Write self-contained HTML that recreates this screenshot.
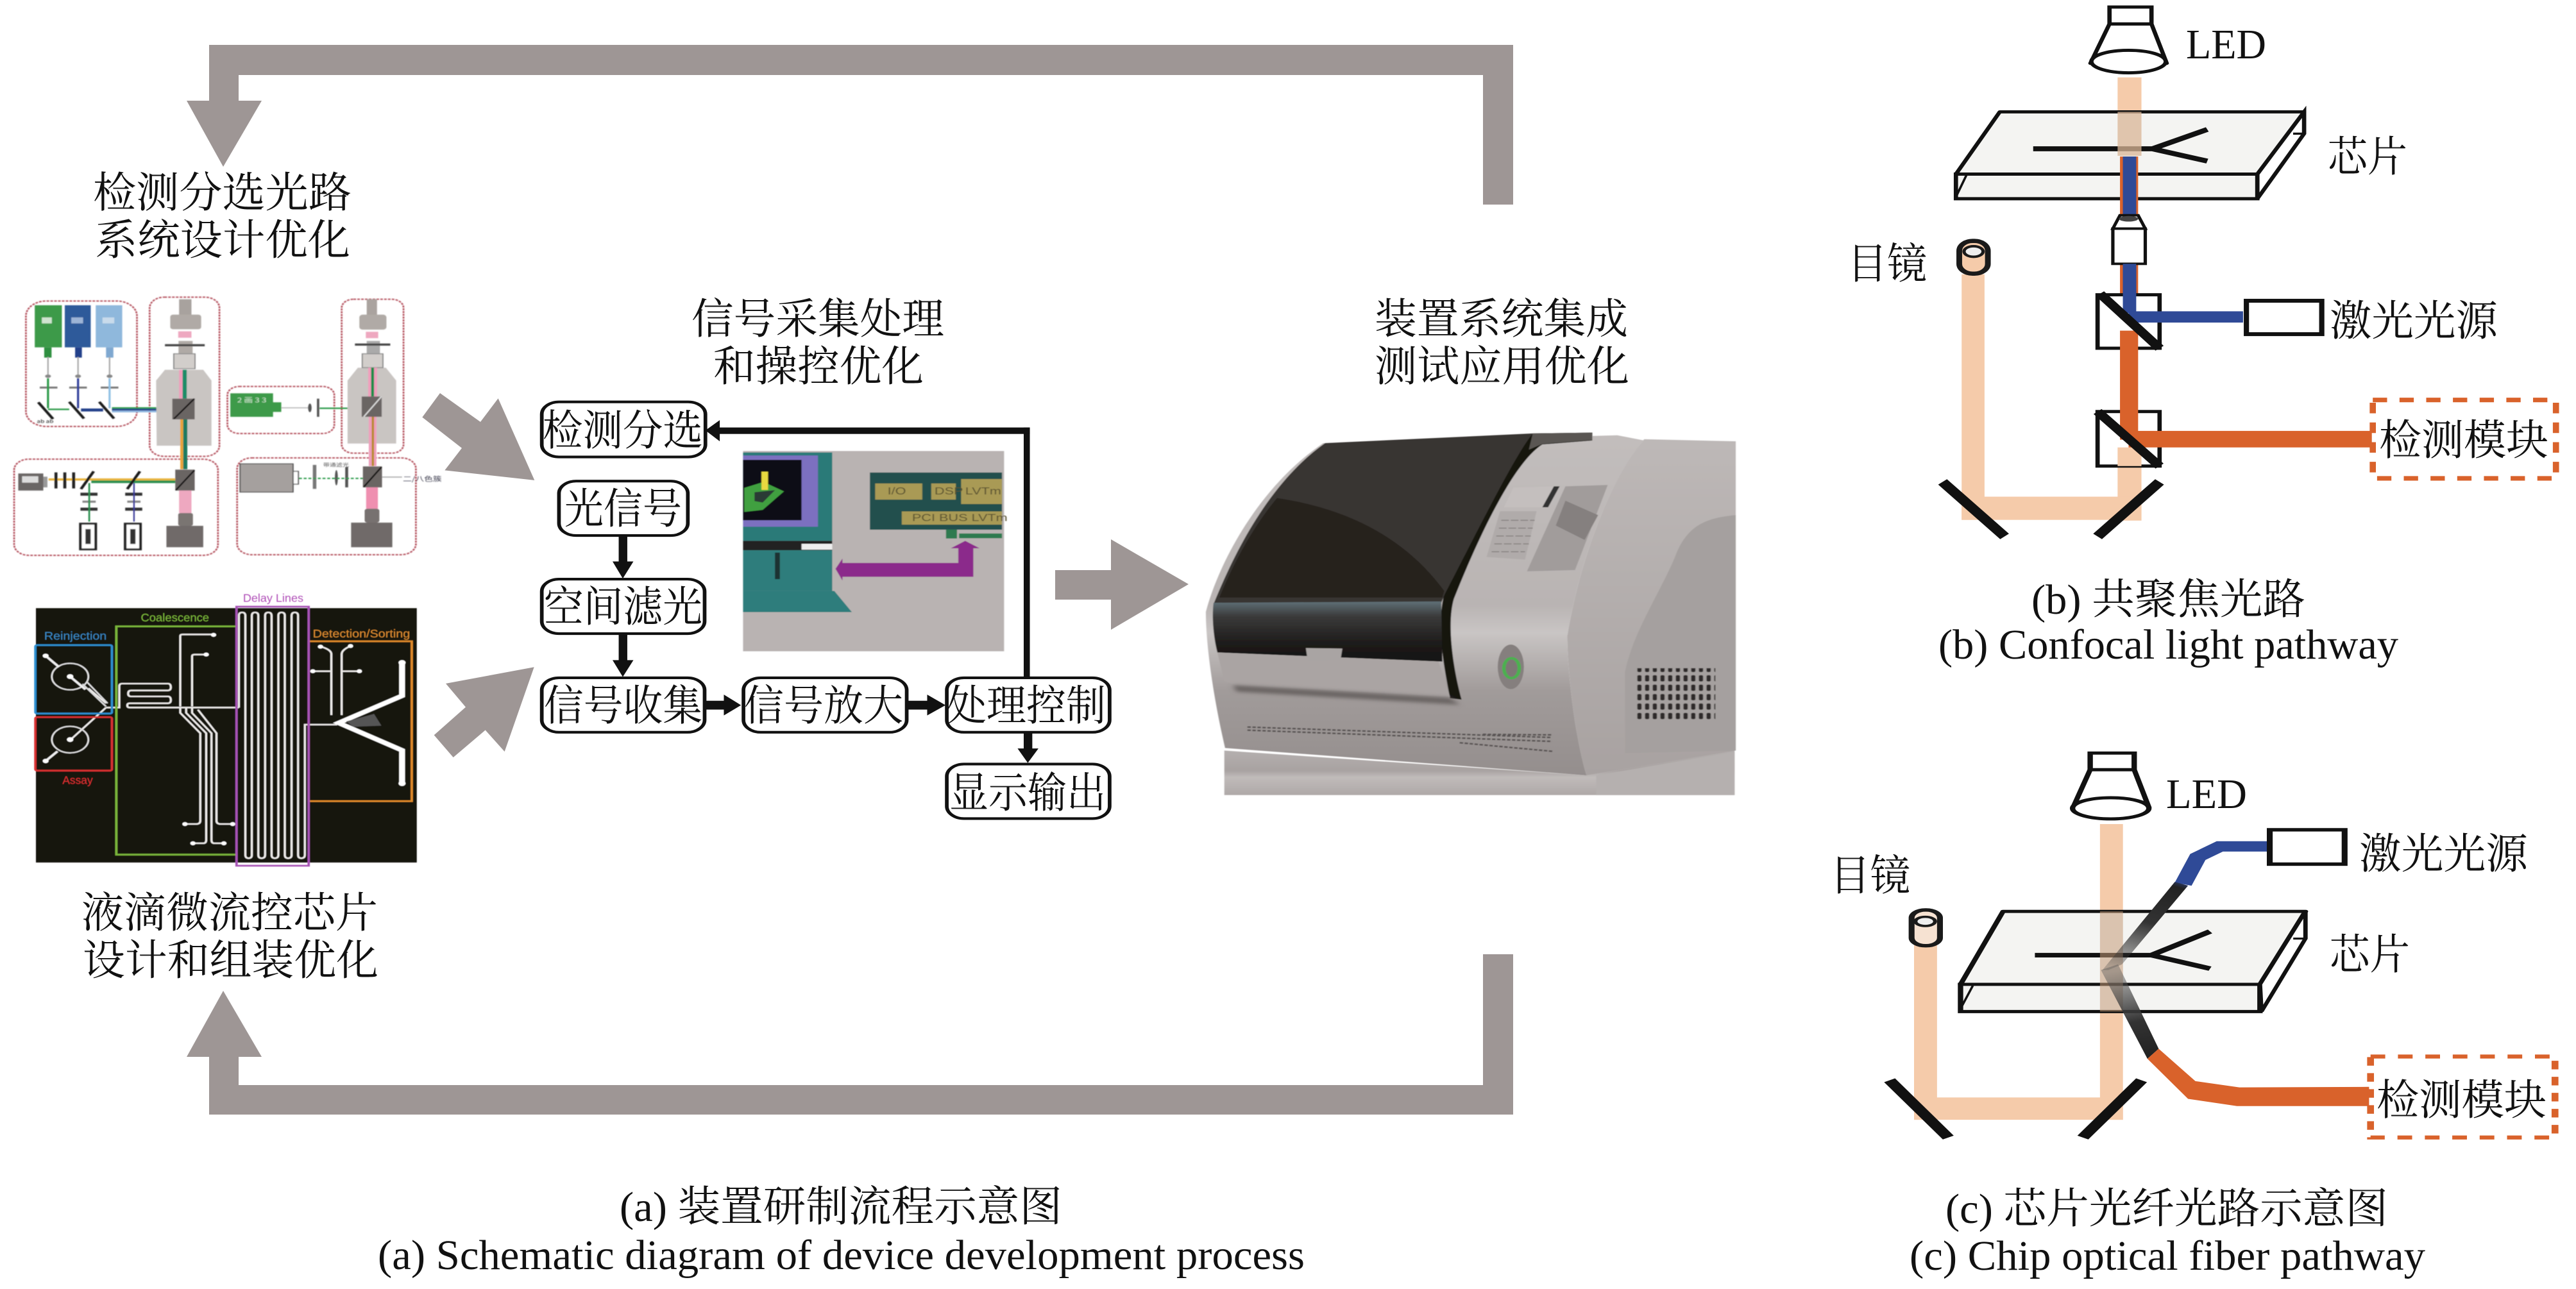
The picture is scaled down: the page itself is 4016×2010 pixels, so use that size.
<!DOCTYPE html>
<html><head><meta charset="utf-8"><style>
html,body{margin:0;padding:0;background:#fff}
svg{display:block}
text{font-family:"Liberation Serif","Noto Serif CJK SC",serif;fill:#111}
.c{font-size:66px}
.s text{font-family:"Liberation Sans",sans-serif}
</style></head><body>
<svg xmlns="http://www.w3.org/2000/svg" width="4016" height="2010" viewBox="0 0 4016 2010">
<defs>
<filter id="b1" x="-5%" y="-5%" width="110%" height="110%"><feGaussianBlur stdDeviation="2"/></filter>
<filter id="b2" x="-5%" y="-5%" width="110%" height="110%"><feGaussianBlur stdDeviation="1.3"/></filter>
<filter id="b3" x="-20%" y="-20%" width="140%" height="140%"><feGaussianBlur stdDeviation="7"/></filter>
<linearGradient id="fr" x1="0" y1="0" x2="0" y2="1"><stop offset="0" stop-color="#c2bdbc"/><stop offset=".5" stop-color="#b9b4b3"/><stop offset=".58" stop-color="#c9c5c4"/><stop offset=".75" stop-color="#a19b9a"/><stop offset="1" stop-color="#948e8d"/></linearGradient>
<linearGradient id="sd" x1="0" y1="0" x2="0" y2="1"><stop offset="0" stop-color="#bdb8b7"/><stop offset="1" stop-color="#a8a2a1"/></linearGradient>
<linearGradient id="bd" x1="0" y1="0" x2="0" y2="1"><stop offset="0" stop-color="#5f7077"/><stop offset=".25" stop-color="#3a3a3a"/><stop offset=".7" stop-color="#1d1b1a"/><stop offset="1" stop-color="#151312"/></linearGradient>
<linearGradient id="st" x1="0" y1="0" x2="0" y2="1"><stop offset="0" stop-color="#b4afae"/><stop offset=".45" stop-color="#a8a2a1"/><stop offset=".6" stop-color="#c0bbba"/><stop offset="1" stop-color="#aea8a7"/></linearGradient>
<linearGradient id="f1" gradientUnits="userSpaceOnUse" x1="770" y1="470" x2="620" y2="780"><stop offset="0" stop-color="#2f4a97"/><stop offset=".1" stop-color="#222"/><stop offset=".5" stop-color="#333"/><stop offset="1" stop-color="#333" stop-opacity=".25"/></linearGradient>
<linearGradient id="f2" gradientUnits="userSpaceOnUse" x1="610" y1="800" x2="705" y2="1085"><stop offset="0" stop-color="#555" stop-opacity=".4"/><stop offset=".6" stop-color="#333"/><stop offset="1" stop-color="#222"/></linearGradient>
<pattern id="vent" patternUnits="userSpaceOnUse" width="20" height="36"><rect x="2" y="4" width="11" height="24" rx="4" fill="#2f2b2a"/></pattern>
</defs>
<rect width="4016" height="2010" fill="#fff"/>

<!-- big grey arrows -->
<g fill="#9e9695">
<polygon points="2312,319 2359,319 2359,70 326,70 326,157 291,157 348,260 408,157 372,157 372,117 2312,117"/>
<polygon points="2312,1488 2359,1488 2359,1738 326,1738 326,1648 291,1648 348,1545 408,1648 372,1648 372,1692 2312,1692"/>
<polygon points="1645,889 1732,889 1732,841 1853,911 1732,982 1732,935 1645,935"/>
<g transform="translate(600,560) scale(.3333,.408)">
<polygon points="175,222 258,130 447,240 530,150 700,463 280,425 360,340"/>
<polygon points="230,1437 378,1330 285,1240 698,1177 560,1500 470,1418 320,1522"/>
</g>
</g>

<!-- optical layout (top-left) -->
<g transform="translate(0,420) scale(.4592,.3333)" filter="url(#b1)">
<g fill="none" stroke="#b5525f" stroke-width="6" stroke-dasharray="9 4">
<rect x="88" y="148" width="377" height="587" rx="70"/>
<rect x="508" y="130" width="237" height="745" rx="50"/>
<rect x="772" y="548" width="363" height="220" rx="40"/>
<rect x="1160" y="140" width="210" height="720" rx="40"/>
<rect x="48" y="888" width="692" height="450" rx="50"/>
<rect x="805" y="882" width="607" height="453" rx="50"/>
</g>
<rect x="118" y="168" width="92" height="197" fill="#3d9a4a"/><rect x="150" y="365" width="25" height="48" fill="#2f8f40"/>
<rect x="220" y="168" width="88" height="197" fill="#2d5a9a"/><rect x="255" y="365" width="23" height="48" fill="#24408a"/>
<rect x="325" y="168" width="90" height="197" fill="#8fb8dc"/><rect x="360" y="365" width="25" height="48" fill="#7fa8d0"/>
<g fill="#cfe4cf"><rect x="142" y="225" width="34" height="28"/></g><rect x="242" y="225" width="40" height="28" fill="#9db4d6"/><rect x="348" y="225" width="40" height="28" fill="#c9dbeb"/>
<g stroke="#aaa" stroke-width="5"><line x1="163" y1="410" x2="163" y2="500"/><line x1="265" y1="410" x2="265" y2="500"/><line x1="372" y1="410" x2="372" y2="500"/></g>
<g stroke="#777" stroke-width="9"><line x1="135" y1="553" x2="195" y2="553"/><line x1="235" y1="553" x2="295" y2="553"/><line x1="342" y1="553" x2="402" y2="553"/></g>
<ellipse cx="163" cy="500" rx="10" ry="8" fill="#888"/><ellipse cx="265" cy="500" rx="10" ry="8" fill="#888"/><ellipse cx="372" cy="500" rx="10" ry="8" fill="#888"/>
<line x1="163" y1="510" x2="163" y2="650" stroke="#2c9a48" stroke-width="7"/>
<line x1="265" y1="510" x2="265" y2="650" stroke="#2e3e9a" stroke-width="7"/>
<line x1="372" y1="510" x2="372" y2="650" stroke="#8fc0e4" stroke-width="7"/>
<line x1="163" y1="655" x2="235" y2="655" stroke="#2c9a48" stroke-width="7"/>
<line x1="275" y1="658" x2="350" y2="658" stroke="#24408a" stroke-width="14"/>
<rect x="380" y="645" width="200" height="7" fill="#2c9a48"/><rect x="380" y="652" width="200" height="9" fill="#24408a"/><rect x="380" y="661" width="200" height="8" fill="#8fb8e0"/>
<g stroke="#1a1a1a" stroke-width="10"><line x1="130" y1="622" x2="180" y2="700"/><line x1="235" y1="620" x2="285" y2="698"/><line x1="337" y1="620" x2="387" y2="698"/></g>
<text x="125" y="718" font-size="22" style="font-family:'Noto Sans CJK SC',sans-serif" fill="#2c7a40">ab ab</text>

<polygon points="530,520 560,470 690,470 718,520 718,825 532,825" fill="#c9c5c2"/>
<rect x="608" y="140" width="42" height="75" fill="#a8a29e"/><rect x="578" y="212" width="105" height="68" rx="10" fill="#b0aaa6"/>
<rect x="605" y="290" width="45" height="30" fill="#eea8c0"/>
<rect x="606" y="335" width="48" height="60" fill="#b0aaa6"/><rect x="560" y="350" width="135" height="10" fill="#444"/>
<rect x="590" y="395" width="72" height="70" fill="#d2cecb" stroke="#888" stroke-width="4"/>
<rect x="608" y="470" width="12" height="135" fill="#ef9fbc"/><rect x="620" y="470" width="14" height="135" fill="#1f8c68"/>
<rect x="612" y="700" width="10" height="235" fill="#e8a33a"/><rect x="622" y="700" width="14" height="235" fill="#1f7a60"/>
<rect x="585" y="605" width="76" height="97" fill="#6b6563"/><line x1="590" y1="700" x2="660" y2="605" stroke="#111" stroke-width="6"/>
<rect x="595" y="937" width="66" height="98" fill="#6b6563"/><line x1="597" y1="1033" x2="660" y2="940" stroke="#111" stroke-width="6"/>
<rect x="608" y="1035" width="42" height="105" fill="#eea8c0"/>
<rect x="605" y="1140" width="50" height="60" rx="8" fill="#7a7472"/><rect x="565" y="1200" width="125" height="100" fill="#6f6a69"/>
<rect x="165" y="978" width="430" height="10" fill="#e8b23a"/><rect x="310" y="988" width="285" height="12" fill="#2c8f50"/>
<rect x="62" y="955" width="85" height="80" fill="#6a6665"/><rect x="75" y="968" width="55" height="30" fill="#ddd"/><rect x="147" y="970" width="14" height="50" fill="#999"/>
<g fill="#222"><rect x="185" y="950" width="10" height="75"/><rect x="215" y="950" width="10" height="75"/><rect x="245" y="950" width="10" height="75"/></g>
<g stroke="#1a1a1a" stroke-width="10"><line x1="275" y1="1028" x2="318" y2="945"/><line x1="432" y1="1028" x2="475" y2="945"/></g>
<g fill="#333"><rect x="273" y="1045" width="58" height="14"/><rect x="273" y="1115" width="58" height="14"/><rect x="425" y="1045" width="58" height="14"/><rect x="425" y="1115" width="58" height="14"/></g>
<g fill="#888"><rect x="280" y="1082" width="45" height="10"/><rect x="432" y="1082" width="45" height="10"/></g>
<line x1="303" y1="1000" x2="303" y2="1180" stroke="#2c8f50" stroke-width="6"/><line x1="455" y1="1000" x2="455" y2="1180" stroke="#3a3a9a" stroke-width="5"/>
<g fill="#fff" stroke="#222" stroke-width="9"><rect x="273" y="1190" width="52" height="120"/><rect x="425" y="1190" width="52" height="120"/></g>
<g fill="#333"><rect x="290" y="1215" width="18" height="70"/><rect x="442" y="1215" width="18" height="70"/></g>

<rect x="782" y="580" width="145" height="110" fill="#3d9a4a"/><rect x="925" y="622" width="30" height="45" fill="#3d9a4a"/>
<text x="805" y="622" font-size="30" fill="#cfe8cf" style="font-family:'Noto Sans CJK SC',sans-serif;fill:#cfe8cf">2 画 3 3</text>
<line x1="955" y1="648" x2="1050" y2="648" stroke="#aaa" stroke-width="4"/>
<rect x="1076" y="605" width="8" height="85" fill="#555"/><ellipse cx="1052" cy="648" rx="6" ry="20" fill="#555"/>
<line x1="1085" y1="650" x2="1225" y2="650" stroke="#2c9a48" stroke-width="7"/>
<polygon points="1180,520 1215,460 1310,460 1345,520 1345,815 1180,815" fill="#c9c5c2"/>
<rect x="1245" y="140" width="35" height="75" fill="#aaa39f"/><rect x="1220" y="212" width="92" height="70" rx="12" fill="#b0aaa6"/>
<rect x="1242" y="292" width="42" height="30" fill="#eea8c0"/>
<rect x="1245" y="335" width="45" height="60" fill="#aaa"/><rect x="1205" y="347" width="120" height="10" fill="#444"/>
<rect x="1230" y="395" width="70" height="65" fill="#d2cecb" stroke="#888" stroke-width="4"/>
<rect x="1250" y="460" width="10" height="135" fill="#ef9fbc"/><rect x="1260" y="460" width="10" height="135" fill="#1f8c48"/><rect x="1270" y="460" width="10" height="135" fill="#ef9fbc"/>
<rect x="1228" y="595" width="68" height="95" fill="#6b6563"/><line x1="1235" y1="690" x2="1295" y2="595" stroke="#ddd" stroke-width="5"/>
<rect x="1252" y="690" width="12" height="230" fill="#ef9fbc"/><rect x="1262" y="690" width="8" height="230" fill="#b98a2a"/><rect x="1270" y="690" width="8" height="230" fill="#ef9fbc"/>
<rect x="1232" y="922" width="65" height="98" fill="#6b6563"/><line x1="1235" y1="1018" x2="1295" y2="925" stroke="#111" stroke-width="6"/>
<rect x="1243" y="1020" width="40" height="100" fill="#ef8fb0"/>
<rect x="1238" y="1120" width="50" height="65" rx="10" fill="#77716f"/><rect x="1192" y="1185" width="140" height="115" fill="#6f6a69"/>
<line x1="1297" y1="972" x2="1365" y2="972" stroke="#999" stroke-width="4"/>
<text x="1368" y="992" font-size="30" style="font-family:'Noto Sans CJK SC',sans-serif;fill:#445">二/八色簇</text>
<rect x="815" y="910" width="180" height="132" fill="#a5a09e" stroke="#555" stroke-width="4"/><rect x="995" y="945" width="18" height="60" fill="#fff" stroke="#555" stroke-width="4"/>
<rect x="1062" y="915" width="12" height="112" fill="#777"/><rect x="1172" y="925" width="10" height="95" fill="#555"/><ellipse cx="1142" cy="975" rx="5" ry="36" fill="#555"/>
<line x1="1015" y1="978" x2="1232" y2="978" stroke="#2c9a48" stroke-width="6" stroke-dasharray="10 6"/>
<text x="1097" y="922" font-size="22" fill="#555" style="font-family:'Noto Sans CJK SC',sans-serif;fill:#555">带通滤光</text>
</g>

<!-- microfluidic chip -->
<g transform="translate(0,900) scale(.4592,.3333)" filter="url(#b2)">
<rect x="122" y="145" width="1293" height="1190" fill="#141210"/>
<g fill="none" stroke="#eceae8" stroke-width="7">
<path d="M811,610V180Q811,165 822,165Q833,165 833,180V1300Q833,1315 844,1315Q855,1315 855,1300V180Q855,165 866,165Q877,165 877,180V1300Q877,1315 888,1315Q900,1315 900,1300V180Q900,165 911,165Q922,165 922,180V1300Q922,1315 933,1315Q945,1315 945,1300V180Q945,165 956,165Q967,165 967,180V1300Q967,1315 978,1315Q990,1315 990,1300V180Q990,165 1001,165Q1012,165 1012,180V1300Q1012,1315 1023,1315Q1035,1315 1035,1300V690H1145"/>
<path d="M811,610H440Q432,610 432,600Q432,590 440,590H570Q580,590 580,575Q580,558 570,558H445Q435,558 435,545Q435,530 445,530H570Q580,530 580,515Q580,498 570,498H415Q405,498 405,510V610H360"/>
<path d="M612,605V275Q612,268 620,268H725"/><path d="M652,605V370Q652,362 660,362H700"/>
<path d="M612,610V635L680,730V1140Q680,1155 665,1155H628"/><path d="M632,610V635L700,730V1230"/><path d="M652,610V635L718,730V1230"/><path d="M672,620L735,730V1140Q735,1155 750,1155H790"/>
<path d="M700,1230Q700,1245 690,1245H655"/><path d="M718,1230Q718,1245 728,1245H760"/>
<path d="M360,610L240,760M300,520L360,590"/>
<path d="M1125,645V360Q1125,340 1090,325"/><path d="M1160,645V360Q1160,340 1190,322"/><path d="M1125,440H1060"/><path d="M1160,440H1220"/>
</g>
<g fill="none" stroke="#ddd" stroke-width="6"><circle cx="238" cy="465" r="62"/><circle cx="238" cy="760" r="62"/>
<line x1="280" y1="500" x2="360" y2="605"/><line x1="295" y1="490" x2="365" y2="590"/></g>
<g stroke="#eee" stroke-width="9"><line x1="155" y1="368" x2="200" y2="420"/><line x1="238" y1="465" x2="290" y2="525"/><line x1="155" y1="860" x2="195" y2="815"/></g>
<g fill="#fff"><circle cx="155" cy="368" r="10"/><circle cx="238" cy="465" r="11"/><circle cx="238" cy="760" r="11"/><circle cx="155" cy="860" r="10"/><circle cx="725" cy="270" r="9"/><circle cx="700" cy="362" r="9"/><circle cx="628" cy="1155" r="9"/><circle cx="790" cy="1155" r="9"/><circle cx="655" cy="1245" r="9"/><circle cx="760" cy="1245" r="9"/><circle cx="1088" cy="325" r="9"/><circle cx="1190" cy="322" r="9"/><circle cx="1062" cy="440" r="9"/><circle cx="1220" cy="440" r="9"/></g>
<polyline points="1365,405 1365,555 1150,682 1365,810 1365,965" fill="none" stroke="#fff" stroke-width="20" stroke-linejoin="miter"/>
<circle cx="1365" cy="400" r="12" fill="#fff"/><circle cx="1365" cy="965" r="12" fill="#fff"/>
<polygon points="1175,675 1270,640 1295,695 1200,700" fill="#555"/>
<g fill="none" stroke-width="8">
<rect x="120" y="318" width="260" height="320" rx="6" stroke="#2f8fd0"/>
<rect x="120" y="655" width="260" height="250" rx="6" stroke="#d83030"/>
<path d="M800,230H395V1298H800" stroke="#7ab53a"/>
<rect x="1048" y="300" width="350" height="748" stroke="#e08a2a"/>
<rect x="803" y="138" width="245" height="1212" stroke="#a652b4"/>
</g>
<g class="s" font-size="52">
<text x="150" y="292" textLength="212" lengthAdjust="spacingAndGlyphs" style="fill:#3a86c0">Reinjection</text>
<text x="478" y="207" textLength="232" lengthAdjust="spacingAndGlyphs" style="fill:#7ab53a">Coalescence</text>
<text x="825" y="115" textLength="205" lengthAdjust="spacingAndGlyphs" style="fill:#b050b8">Delay Lines</text>
<text x="1062" y="282" textLength="330" lengthAdjust="spacingAndGlyphs" style="fill:#d98a30">Detection/Sorting</text>
<text x="212" y="968" textLength="103" lengthAdjust="spacingAndGlyphs" style="fill:#d83030">Assay</text>
</g>
</g>

<!-- flowchart -->
<g transform="translate(800,600) scale(.6378,.4592)">
<g filter="url(#b2)">
<rect x="562" y="225" width="638" height="680" fill="#b9b3b2"/>
<rect x="562" y="230" width="218" height="300" fill="#2b7a78"/><rect x="562" y="240" width="183" height="242" fill="#7b70c0"/><rect x="562" y="255" width="143" height="205" fill="#100f12"/>
<polygon points="565,350 612,330 662,362 610,425 565,432" fill="#3fa040"/><polygon points="590,365 640,358 610,400 590,395" fill="#2c3a34"/><rect x="607" y="295" width="16" height="62" fill="#e8d840"/>
<rect x="872" y="298" width="323" height="194" fill="#23504e"/>
<g fill="#a99a55"><rect x="885" y="335" width="115" height="55"/><rect x="1022" y="335" width="60" height="55"/><rect x="1095" y="320" width="100" height="85"/><rect x="950" y="430" width="245" height="45"/></g>
<rect x="1058" y="492" width="27" height="30" fill="#2e7a50"/><rect x="1090" y="505" width="105" height="16" fill="#2e7a50"/>
<g font-size="34" class="s"><text x="915" y="372" style="fill:#5a5230">I/O</text><text x="1030" y="372" style="fill:#5a5230">DSP</text><text x="1105" y="372" style="fill:#5a5230">LVTm</text><text x="975" y="463" style="fill:#5a5230">PCI BUS LVTm</text></g>
<rect x="562" y="530" width="218" height="32" fill="#222"/><rect x="705" y="540" width="75" height="20" fill="#eee"/>
<rect x="562" y="562" width="218" height="138" fill="#2e7d7b"/><rect x="640" y="570" width="12" height="90" fill="#1f3331"/>
<polygon points="562,700 785,700 828,772 562,772" fill="#2e7d7b"/>
<polygon points="788,625 805,590 805,605 1088,605 1088,555 1070,555 1105,530 1140,555 1125,555 1125,652 805,652 805,665" fill="#8b2a8b"/>
</g>
<g fill="#fff" stroke="#111" stroke-width="9">
<rect x="70" y="58" width="400" height="187" rx="42"/>
<rect x="112" y="327" width="315" height="185" rx="42"/>
<rect x="70" y="660" width="398" height="185" rx="42"/>
<rect x="70" y="995" width="398" height="185" rx="42"/>
<rect x="563" y="995" width="399" height="185" rx="42"/>
<rect x="1060" y="995" width="398" height="185" rx="42"/>
<rect x="1060" y="1288" width="398" height="185" rx="42"/>
</g>
<g fill="#111">
<rect x="1248" y="145" width="15" height="850"/><rect x="500" y="145" width="763" height="22"/>
<polygon points="470,155 505,120 505,192"/>
<rect x="258" y="512" width="21" height="95"/><polygon points="243,600 294,600 268,658"/>
<rect x="258" y="845" width="21" height="95"/><polygon points="243,935 294,935 268,992"/>
<rect x="470" y="1073" width="50" height="30"/><polygon points="515,1052 557,1088 515,1123"/>
<rect x="965" y="1073" width="50" height="30"/><polygon points="1012,1052 1057,1088 1012,1123"/>
<rect x="1248" y="1180" width="21" height="60"/><polygon points="1233,1235 1284,1235 1258,1284"/>
</g>
</g>

<!-- machine -->
<g transform="translate(1820,640) scale(.5995,.408)">
<g filter="url(#b2)">
<path d="M148,1300L1090,1395L1475,1300V1470H148Z" fill="url(#st)"/>
<polygon points="1115,1395 1475,1305 1475,1470 1115,1470" fill="#b5b0af"/>
<path d="M1240,110L1478,118V1300L1090,1395C1060,1250 1040,1000 1040,860C1080,500 1180,200 1240,110Z" fill="url(#sd)"/>
<path d="M1478,400C1400,410 1350,440 1320,560C1280,700 1210,850 1190,1000L1190,1310L1478,1300Z" fill="#a5a09f"/>
<path d="M100,770C130,600 230,300 405,125L1170,95L1240,115C1180,200 1080,500 1040,860C1040,1000 1060,1250 1090,1395L150,1290C120,1100 100,900 100,770Z" fill="url(#fr)"/>
<polygon points="1035,290 1145,285 1060,610 935,615" fill="#a19c9b"/>
<polygon points="1035,345 1120,400 1085,495 1010,440" fill="#85807f"/>
<polygon points="900,295 1015,290 985,370 875,370" fill="#c4bfbe"/><polygon points="1005,290 1020,290 990,370 975,370" fill="#333"/>
<polygon points="865,385 960,385 930,570 830,560" fill="#b0abaa"/>
<g stroke="#8a8584" stroke-width="4" stroke-dasharray="20 5"><line x1="868" y1="420" x2="955" y2="420"/><line x1="862" y1="450" x2="950" y2="450"/><line x1="855" y1="480" x2="945" y2="480"/><line x1="850" y1="510" x2="940" y2="510"/><line x1="843" y1="540" x2="930" y2="540"/></g>
<path d="M950,88L1105,85V115L975,130C900,200 810,480 745,720C725,820 745,1000 765,1105L735,1100C715,950 700,820 720,700C780,470 870,200 950,88Z" fill="#14120f"/>
<path d="M950,88L1105,85V113L975,128L940,150Z" fill="#5a5652"/>
<path d="M120,740C170,560 260,280 410,125L950,88C900,180 800,480 722,700L712,735L130,740Z" fill="#393533"/>
<path d="M135,715C170,590 220,450 285,335C450,370 610,470 720,690L715,715Z" fill="#26221f"/>
<path d="M120,735L712,730L715,960L130,925C120,870 115,790 120,735Z" fill="url(#bd)"/>
<polygon points="130,925 705,960 735,1095 180,1050 148,1035" fill="#aaa4a3"/>
<polygon points="170,1050 735,1098 760,1125 180,1075" fill="#6a6564" filter="url(#b3)"/>
<polygon points="360,908 455,910 450,955 365,958" fill="#a9a4a3"/>
<ellipse cx="893" cy="980" rx="34" ry="85" fill="#857f7e"/>
<ellipse cx="895" cy="985" rx="20" ry="38" fill="#7d7775" stroke="#4cb050" stroke-width="9"/>
<rect x="1215" y="985" width="210" height="205" fill="url(#vent)"/>
<g stroke="#5a5554" stroke-width="6" fill="none" stroke-dasharray="9 4">
<line x1="208" y1="1210" x2="1000" y2="1250"/><line x1="208" y1="1222" x2="1000" y2="1265"/><line x1="820" y1="1238" x2="1000" y2="1240"/><line x1="760" y1="1270" x2="1002" y2="1303"/>
</g>
</g>
</g>

<!-- panel b -->
<g transform="translate(2850,0) scale(.7436,.5485)">
<g fill="#f5cbaa">
<rect x="607" y="220" width="50" height="230"/>
<rect x="607" y="1325" width="50" height="155"/>
<rect x="280" y="1412" width="377" height="66"/>
<rect x="280" y="780" width="48" height="698"/>
</g>
<polygon points="360,318 998,318 900,495 268,495" fill="#f4f4f2" stroke="#111" stroke-width="9" stroke-linejoin="round"/>
<polygon points="268,495 900,495 900,565 268,565" fill="#f4f4f2" stroke="#111" stroke-width="9"/>
<polygon points="998,318 998,380 900,565 900,495" fill="#fff" stroke="#111" stroke-width="9"/>
<line x1="290" y1="498" x2="268" y2="560" stroke="#111" stroke-width="5"/>
<line x1="975" y1="380" x2="998" y2="380" stroke="#111" stroke-width="6"/>
<g stroke="#111" stroke-width="14" fill="none"><path d="M430,423H680L795,368M680,423L795,458"/></g>
<rect x="607" y="318" width="50" height="125" fill="#d9b595" opacity=".75"/>
<rect x="612" y="445" width="38" height="395" fill="#d9622b"/>
<rect x="618" y="445" width="28" height="450" fill="#2f4a97"/>
<polygon points="612,612 650,612 665,650 597,650" fill="#fff" stroke="#111" stroke-width="7"/><ellipse cx="630" cy="622" rx="20" ry="8" fill="#444"/>
<rect x="597" y="650" width="68" height="100" fill="#fff" stroke="#111" stroke-width="7"/>
<rect x="565" y="838" width="130" height="152" fill="#fff" stroke="#111" stroke-width="9"/>
<rect x="565" y="1170" width="130" height="155" fill="#fff" stroke="#111" stroke-width="9"/>
<rect x="607" y="1272" width="50" height="53" fill="#f5cbaa"/>
<rect x="612" y="940" width="38" height="310" fill="#d9622b"/>
<rect x="618" y="750" width="28" height="140" fill="#2f4a97"/>
<rect x="630" y="885" width="240" height="32" fill="#2f4a97"/>
<rect x="630" y="1225" width="510" height="47" fill="#d9622b"/>
<line x1="570" y1="835" x2="695" y2="990" stroke="#111" stroke-width="22"/>
<line x1="565" y1="1170" x2="695" y2="1325" stroke="#111" stroke-width="22"/>
<rect x="877" y="855" width="158" height="95" fill="#fff" stroke="#111" stroke-width="11"/>
<rect x="1142" y="1137" width="384" height="223" fill="none" stroke="#d9622b" stroke-width="13" stroke-dasharray="30 26"/>
<g stroke="#111" stroke-width="24"><line x1="240" y1="1370" x2="370" y2="1525"/><line x1="695" y1="1370" x2="565" y2="1525"/></g>
<polygon points="590,68 678,68 710,180 550,180" fill="#fff" stroke="#111" stroke-width="9" stroke-linejoin="round"/>
<rect x="590" y="20" width="88" height="48" fill="#fff" stroke="#111" stroke-width="9"/>
<ellipse cx="630" cy="175" rx="78" ry="32" fill="#fff" stroke="#111" stroke-width="9"/>
<rect x="275" y="685" width="60" height="93" rx="28" fill="#f5cbaa" stroke="#1a1a1a" stroke-width="12"/>
<ellipse cx="305" cy="715" rx="20" ry="15" fill="#eee" stroke="#1a1a1a" stroke-width="7"/>
</g>

<!-- panel c -->
<g transform="translate(2820,1160) scale(.7628,.4464)">
<g fill="#f5cbaa">
<rect x="595" y="280" width="47" height="305"/>
<rect x="595" y="935" width="47" height="378"/>
<rect x="215" y="1235" width="427" height="78"/>
<rect x="215" y="700" width="47" height="613"/>
</g>
<polygon points="397,585 1015,585 922,840 310,840" fill="#f4f4f2" stroke="#111" stroke-width="11" stroke-linejoin="round"/>
<polygon points="310,840 922,840 922,935 310,935" fill="#f4f4f2" stroke="#111" stroke-width="11"/>
<polygon points="1015,585 1015,680 925,935 922,840" fill="#fff" stroke="#111" stroke-width="9"/>
<line x1="335" y1="845" x2="310" y2="925" stroke="#111" stroke-width="5"/>
<line x1="990" y1="680" x2="1015" y2="680" stroke="#111" stroke-width="7"/>
<g stroke="#111" stroke-width="16" fill="none"><path d="M462,738H700L820,655M700,738L820,785"/></g>
<rect x="595" y="585" width="47" height="350" fill="#c49a78" opacity=".55"/>
<path d="M945,358H840L795,395L765,490" fill="none" stroke="#2f4a97" stroke-width="36"/>
<polygon points="748,482 775,495 640,770 612,790 600,790" fill="url(#f1)"/>
<polygon points="597,790 632,770 715,1065 692,1100" fill="url(#f2)"/>
<polygon points="692,1100 715,1065 790,1178 880,1200 1145,1198 1145,1265 875,1265 775,1240" fill="#d9622b"/>
<g stroke="#111" stroke-width="26"><line x1="165" y1="1175" x2="285" y2="1375"/><line x1="680" y1="1175" x2="560" y2="1375"/></g>
<polygon points="575,90 665,90 695,222 540,222" fill="#fff" stroke="#111" stroke-width="11" stroke-linejoin="round"/>
<rect x="575" y="32" width="90" height="58" fill="#fff" stroke="#111" stroke-width="11"/>
<ellipse cx="617" cy="225" rx="78" ry="37" fill="#fff" stroke="#111" stroke-width="11"/>
<rect x="942" y="300" width="153" height="120" fill="#fff" stroke="#111" stroke-width="12"/>
<rect x="210" y="580" width="58" height="125" rx="28" fill="#f6e2d2" stroke="#1a1a1a" stroke-width="12"/>
<ellipse cx="238" cy="620" rx="20" ry="16" fill="#eee" stroke="#1a1a1a" stroke-width="8"/>
<rect x="1148" y="1092" width="377" height="283" fill="none" stroke="#d9622b" stroke-width="14" stroke-dasharray="30 26"/>
</g>

<!-- text -->
<g class="c">
<text x="145" y="323" textLength="403" lengthAdjust="spacingAndGlyphs">检测分选光路</text>
<text x="148" y="397" textLength="398" lengthAdjust="spacingAndGlyphs">系统设计优化</text>
<text x="127" y="1446" textLength="462" lengthAdjust="spacingAndGlyphs">液滴微流控芯片</text>
<text x="129" y="1520" textLength="461" lengthAdjust="spacingAndGlyphs">设计和组装优化</text>
<text x="1078" y="520" textLength="394" lengthAdjust="spacingAndGlyphs">信号采集处理</text>
<text x="1112" y="594" textLength="328" lengthAdjust="spacingAndGlyphs">和操控优化</text>
<text x="2143" y="520" textLength="395" lengthAdjust="spacingAndGlyphs">装置系统集成</text>
<text x="2143" y="594" textLength="397" lengthAdjust="spacingAndGlyphs">测试应用优化</text>
<text x="966" y="1904" textLength="690" lengthAdjust="spacingAndGlyphs">(a) 装置研制流程示意图</text>
<text x="589" y="1979" textLength="1445" lengthAdjust="spacingAndGlyphs">(a) Schematic diagram of device development process</text>
<text x="3167" y="957" textLength="427" lengthAdjust="spacingAndGlyphs">(b) 共聚焦光路</text>
<text x="3022" y="1027" textLength="717" lengthAdjust="spacingAndGlyphs">(b) Confocal light pathway</text>
<text x="3033" y="1907" textLength="690" lengthAdjust="spacingAndGlyphs">(c) 芯片光纤光路示意图</text>
<text x="2977" y="1980" textLength="804" lengthAdjust="spacingAndGlyphs">(c) Chip optical fiber pathway</text>
<text x="846" y="694" textLength="250" lengthAdjust="spacingAndGlyphs">检测分选</text>
<text x="880" y="816" textLength="183" lengthAdjust="spacingAndGlyphs">光信号</text>
<text x="848" y="969" textLength="247" lengthAdjust="spacingAndGlyphs">空间滤光</text>
<text x="848" y="1123" textLength="247" lengthAdjust="spacingAndGlyphs">信号收集</text>
<text x="1160" y="1123" textLength="248" lengthAdjust="spacingAndGlyphs">信号放大</text>
<text x="1476" y="1123" textLength="248" lengthAdjust="spacingAndGlyphs">处理控制</text>
<text x="1480" y="1259" textLength="244" lengthAdjust="spacingAndGlyphs">显示输出</text>
<text x="3408" y="91" textLength="125" lengthAdjust="spacingAndGlyphs">LED</text>
<text x="3629" y="267" textLength="124" lengthAdjust="spacingAndGlyphs">芯片</text>
<text x="2880" y="434" textLength="124" lengthAdjust="spacingAndGlyphs">目镜</text>
<text x="3632" y="523" textLength="262" lengthAdjust="spacingAndGlyphs">激光光源</text>
<text x="3709" y="709" textLength="264" lengthAdjust="spacingAndGlyphs">检测模块</text>
<text x="3377" y="1260" textLength="126" lengthAdjust="spacingAndGlyphs">LED</text>
<text x="3678" y="1354" textLength="263" lengthAdjust="spacingAndGlyphs">激光光源</text>
<text x="2853" y="1388" textLength="125" lengthAdjust="spacingAndGlyphs">目镜</text>
<text x="3632" y="1511" textLength="125" lengthAdjust="spacingAndGlyphs">芯片</text>
<text x="3705" y="1738" textLength="265" lengthAdjust="spacingAndGlyphs">检测模块</text>
</g>
</svg>
</body></html>
